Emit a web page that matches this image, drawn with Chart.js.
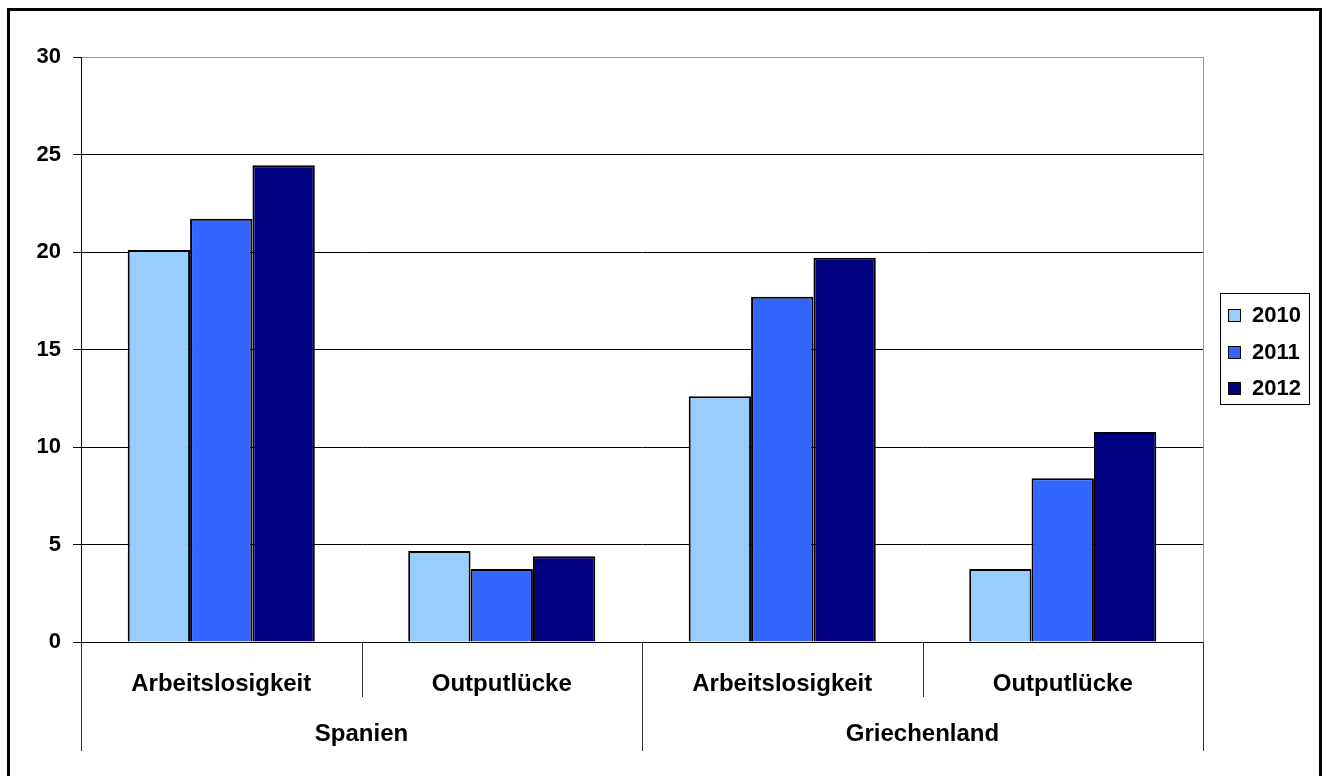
<!DOCTYPE html>
<html>
<head>
<meta charset="utf-8">
<script src="https://cdn.jsdelivr.net/npm/chart.js@4/dist/chart.umd.min.js"></script>
<style>
  html, body { margin: 0; padding: 0; overflow: hidden; background: #fff; }
  #frame { position: absolute; left: 7px; top: 8px; width: 1315px; height: 800px; border: 3px solid #000; box-sizing: border-box; }
  #wrap { position: absolute; left: 0; top: 0; width: 1322px; height: 776px; }
</style>
</head>
<body>
<div id="frame"></div>
<div id="wrap"><canvas id="chart"></canvas></div>
<script>
// values
const categories = ['Arbeitslosigkeit', 'Outputlücke', 'Arbeitslosigkeit', 'Outputlücke'];
const groups = ['Spanien', 'Griechenland'];
const years = ['2010', '2011', '2012'];
const values2010 = [20.1, 4.67, 12.6, 3.75];
const values2011 = [21.7, 3.75, 17.7, 8.4];
const values2012 = [24.45, 4.4, 19.7, 10.77];
const colors = ['#99CCFF', '#3366FF', '#000080'];

const FONT = "'Liberation Sans', Arial, sans-serif";

// separators, group labels, plot border and boxed legend
const extras = {
  id: 'extras',
  afterDraw(chart) {
    const ctx = chart.ctx;
    const area = chart.chartArea;
    const x = chart.scales.x;
    const w = (x.right - x.left) / categories.length;
    ctx.save();

    // right plot border
    ctx.strokeStyle = '#999';
    ctx.lineWidth = 1;
    ctx.beginPath();
    ctx.moveTo(Math.round(area.right) + 0.5, area.top);
    ctx.lineTo(Math.round(area.right) + 0.5, area.bottom);
    ctx.stroke();

    // category separators
    ctx.strokeStyle = '#333';
    for (let i = 0; i <= categories.length; i++) {
      const px = Math.round(x.left + i * w) + 0.5;
      const len = i % 2 === 0 ? 109 : 55;
      ctx.beginPath();
      ctx.moveTo(px, area.bottom);
      ctx.lineTo(px, area.bottom + len);
      ctx.stroke();
    }

    // group labels
    ctx.fillStyle = '#000';
    ctx.font = 'bold 24px ' + FONT;
    ctx.textAlign = 'center';
    ctx.textBaseline = 'middle';
    groups.forEach((g, i) => {
      const cx = x.left + (i * 2 + 1) * w;
      ctx.fillText(g, cx, area.bottom + 92);
    });

    // legend
    const lx = area.right + 17;
    const lw = 89, lh = 111;
    const ly = (area.top + area.bottom) / 2 - lh / 2 - 1;
    ctx.strokeStyle = '#000';
    ctx.strokeRect(Math.round(lx) + 0.5, Math.round(ly) + 0.5, lw, lh);
    ctx.font = 'bold 22px ' + FONT;
    ctx.textAlign = 'left';
    chart.data.datasets.forEach((ds, i) => {
      const cy = ly + 22 + i * 36.5;
      ctx.fillStyle = ds.backgroundColor;
      ctx.fillRect(Math.round(lx + 8), Math.round(cy - 6), 12, 12);
      ctx.strokeRect(Math.round(lx + 8) + 0.5, Math.round(cy - 6) + 0.5, 12, 12);
      ctx.fillStyle = '#000';
      ctx.fillText(ds.label, lx + 32, cy + 1);
    });
    ctx.restore();
  }
};

new Chart(document.getElementById('chart'), {
  type: 'bar',
  data: {
    labels: categories,
    datasets: [
      { label: years[0], data: values2010, backgroundColor: colors[0] },
      { label: years[1], data: values2011, backgroundColor: colors[1] },
      { label: years[2], data: values2012, backgroundColor: colors[2] }
    ]
  },
  options: {
    responsive: true,
    maintainAspectRatio: false,
    animation: false,
    layout: { padding: { top: 57, right: 119, left: 0, bottom: 0 } },
    datasets: {
      bar: {
        categoryPercentage: 0.667,
        barPercentage: 1.0,
        borderColor: '#000',
        borderWidth: 2
      }
    },
    plugins: {
      legend: { display: false },
      tooltip: { enabled: false }
    },
    scales: {
      x: {
        grid: { display: false },
        border: { display: false },
        ticks: {
          color: '#000',
          font: { family: FONT, size: 24, weight: 'bold' },
          padding: 20,
          maxRotation: 0
        },
        afterFit(s) { s.height = 134; }
      },
      y: {
        min: 0,
        max: 30,
        ticks: {
          stepSize: 5,
          color: '#000',
          padding: 12,
          font: { family: FONT, size: 22, weight: 'bold' }
        },
        grid: {
          color: c => (c.tick && c.tick.value === 30 ? '#999' : '#000'),
          tickColor: '#000',
          tickLength: 8,
          lineWidth: 1
        },
        border: { color: '#000', width: 1 },
        afterFit(s) { s.width = 81; }
      }
    }
  },
  plugins: [extras]
});
</script>
</body>
</html>
